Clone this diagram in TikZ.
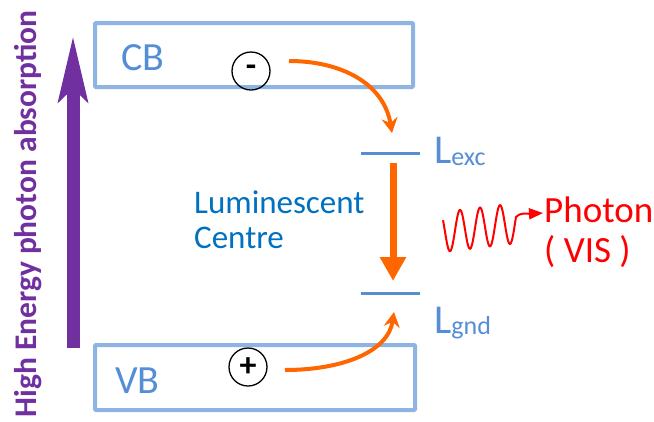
\documentclass[tikz,border=0pt]{standalone}
\usepackage{fontspec}
\setmainfont{Carlito}
\usetikzlibrary{arrows.meta}
\definecolor{boxblue}{HTML}{8DB4E2}
\definecolor{lvlblue}{HTML}{558ED5}
\definecolor{lumblue}{HTML}{0070C0}
\definecolor{orng}{HTML}{FF6600}
\definecolor{purp}{HTML}{7030A0}
\definecolor{phred}{HTML}{FF0000}
\tikzset{
  bandbox/.style={draw=boxblue, line width=4pt, rounded corners=1pt, inner sep=0pt},
  bandlabel/.style={text=lvlblue, inner sep=0pt, anchor=base west, font=\fontsize{40}{40}\selectfont},
  charge/.style={circle, draw=black, line width=1.3pt, minimum size=38pt, inner sep=0pt, font=\fontsize{34}{34}\selectfont\bfseries},
  level/.style={draw=lvlblue, line width=3pt},
  levellabel/.style={text=lvlblue, inner sep=0pt, anchor=base west},
  carrier/.style={draw=orng, line width=4pt, -{Stealth[length=15pt,width=16pt,inset=5pt]}},
}
\begin{document}
\begin{tikzpicture}[x=1pt,y=-1pt]
\useasboundingbox (0,0) rectangle (654,421);

% bands
\node[bandbox, minimum width=318pt, minimum height=64pt] (cb) at (254,55) {};
\node[bandbox, minimum width=320pt, minimum height=65pt] (vb) at (255,377.5) {};
\node[bandlabel] (cblabel) at (121,70) {CB};
\node[bandlabel] (vblabel) at (115,393) {VB};

% charges
\node[charge] (minus) at (251,71) {\raisebox{-2pt}{-}};
\node[charge] (plus) at (248,367) {+};

% levels
\coordinate (exca) at (361,153);
\coordinate (excb) at (420,153);
\coordinate (gnda) at (361,293);
\coordinate (gndb) at (420,293);
\draw[level] (exca) -- (excb);
\draw[level] (gnda) -- (gndb);
\node[levellabel] (lexc) at (434,163) {{\fontsize{41}{41}\selectfont L}\raisebox{-2pt}{\fontsize{26}{26}\selectfont exc}};
\node[levellabel] (lgnd) at (434,333) {{\fontsize{41}{41}\selectfont L}\raisebox{-1pt}{\fontsize{26}{26}\selectfont gnd}};

% luminescent centre
\node[text=lumblue, inner sep=0pt, anchor=base west, align=left, font=\fontsize{33}{35}\selectfont] (lum) at (194,248) {Luminescent\\Centre};

% carrier paths
\coordinate (estart) at (289,61);
\coordinate (eend) at (392,133);
\draw[carrier] (estart) .. controls (342,61) and (384,84) .. (eend);
\coordinate (hstart) at (285,370);
\coordinate (hend) at (394,312);
\draw[carrier] (hstart) .. controls (342,370) and (388,352) .. (hend);

% relaxation arrow
\coordinate (relaxa) at (393,163);
\coordinate (relaxb) at (393,281);
\draw[draw=orng, line width=7pt, -{Triangle[length=24pt,width=25pt]}] (relaxa) -- (relaxb);

% photon
\node[text=phred, inner sep=0pt, anchor=base west, align=left, font=\fontsize{37}{40}\selectfont] (photon) at (544,262) {Photon\\( VIS )};
\coordinate (wavetip) at (543,213);
\draw[phred, line width=2pt, -{Triangle[length=14pt,width=11pt]}]
  plot[domain=443:516, samples=160, smooth] ({\x},{232-0.12*(\x-443)+20*sin(18*(\x-445))})
  .. controls (521,212) and (526,214) .. (wavetip);

% absorption arrow
\coordinate (absa) at (73,348);
\coordinate (absb) at (73,35);
\draw[draw=purp, line width=13pt, -{Stealth[length=65pt,width=28pt,inset=12pt]}] (absa) -- (absb);
\node[rotate=90, anchor=base, inner sep=0pt, text=purp, font=\fontsize{31.5}{31.5}\selectfont\bfseries] (abstext) at (36,214) {High Energy photon absorption};
\end{tikzpicture}
\end{document}
